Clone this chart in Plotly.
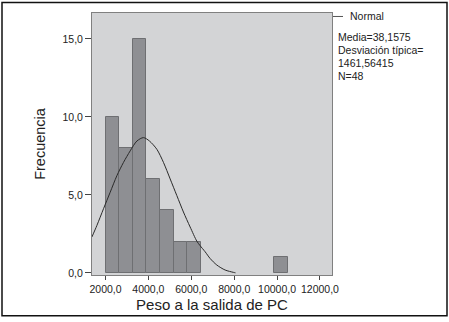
import plotly.graph_objects as go

# Histogram bars (bin centers and frequencies)
bin_centers = [2318, 2953, 3588, 4223, 4858, 5493, 6128, 10170]
frequencies = [10, 8, 15, 6, 4, 2, 2, 1]
bin_width = 635

# Normal curve points
curve_x = [1367, 1599, 1907, 2219, 2531, 2838, 3151, 3463, 3770, 4050, 4394, 4702,
           5014, 5326, 5633, 5945, 6257, 6411, 6644, 6877, 7189, 7576, 7962, 8060]
curve_y = [2.30, 3.04, 4.11, 5.17, 6.23, 7.08, 7.82, 8.45, 8.67, 8.45, 7.92, 7.08,
           6.02, 4.95, 3.90, 2.94, 2.03, 1.74, 1.35, 0.92, 0.50, 0.18, 0.03, 0.0]

y_tickvals = [0, 5, 10, 15]
y_ticktext = ["0,0", "5,0", "10,0", "15,0"]
x_tickvals = [2000, 4000, 6000, 8000, 10000, 12000]
x_ticktext = ["2000,0", "4000,0", "6000,0", "8000,0", "10000,0", "12000,0"]

stats_lines = ["Media=38,1575", "Desviación típica=", "1461,56415", "N=48"]

FONT = "Arial, Liberation Sans, Helvetica, sans-serif"

fig = go.Figure()
fig.add_trace(go.Bar(
    x=bin_centers, y=frequencies, width=[bin_width] * len(bin_centers),
    marker=dict(color="#8e8f93", line=dict(color="#6e6f72", width=1)),
    showlegend=False, hoverinfo="skip",
))
fig.add_trace(go.Scatter(
    x=curve_x, y=curve_y, mode="lines",
    line=dict(color="#2a2a2a", width=1, shape="spline", smoothing=0.8),
    showlegend=False, hoverinfo="skip",
))

W, H = 449, 322
L, R, T, B = 92, 117, 13, 45
pw, ph = W - L - R, H - T - B


def px(xpix):
    return (xpix - L) / pw


def py(ypix):
    return (H - B - ypix) / ph


annotations = [dict(xref="paper", yref="paper", x=px(348), y=py(16.5), text="Normal",
                    showarrow=False, xanchor="left", yanchor="middle",
                    font=dict(family=FONT, size=10.5, color="#222"))]
for i, s in enumerate(stats_lines):
    annotations.append(dict(xref="paper", yref="paper", x=px(336), y=py(37.5 + 13 * i), text=s,
                            showarrow=False, xanchor="left", yanchor="middle",
                            font=dict(family=FONT, size=10.5, color="#222")))

shapes = [
    dict(type="line", xref="paper", yref="paper", x0=px(333), x1=px(343), y0=py(16.5), y1=py(16.5),
         line=dict(color="#555", width=1)),
    dict(type="rect", xref="paper", yref="paper", x0=px(2), x1=px(447), y0=py(2.5), y1=py(318),
         line=dict(color="#111", width=1.5), layer="above"),
]

fig.update_layout(
    width=W, height=H,
    margin=dict(l=L, r=R, t=T, b=B),
    paper_bgcolor="white",
    plot_bgcolor="#d3d4d6",
    bargap=0,
    font=dict(family=FONT, size=10, color="#222"),
    annotations=annotations,
    shapes=shapes,
    xaxis=dict(range=[1370, 12560], tickvals=x_tickvals, ticktext=x_ticktext,
               showgrid=False, zeroline=False, showline=True, linecolor="#808080", linewidth=1,
               mirror=True, ticks="outside", ticklen=4, tickcolor="#444",
               tickfont=dict(size=10.5, color="#222"),
               title=dict(text="Peso a la salida de PC", font=dict(size=15, color="#222"), standoff=5)),
    yaxis=dict(range=[-0.14, 16.66], tickvals=y_tickvals, ticktext=y_ticktext,
               showgrid=False, zeroline=False, showline=True, linecolor="#808080", linewidth=1,
               mirror=True, ticks="outside", ticklen=6, tickcolor="#444",
               tickfont=dict(size=10.5, color="#222"),
               title=dict(text="Frecuencia", font=dict(size=14.5, color="#222"), standoff=13)),
)

fig.write_html("out.html", config={"displayModeBar": False},
               post_script="document.body.style.margin='0';document.body.style.overflow='hidden';")
